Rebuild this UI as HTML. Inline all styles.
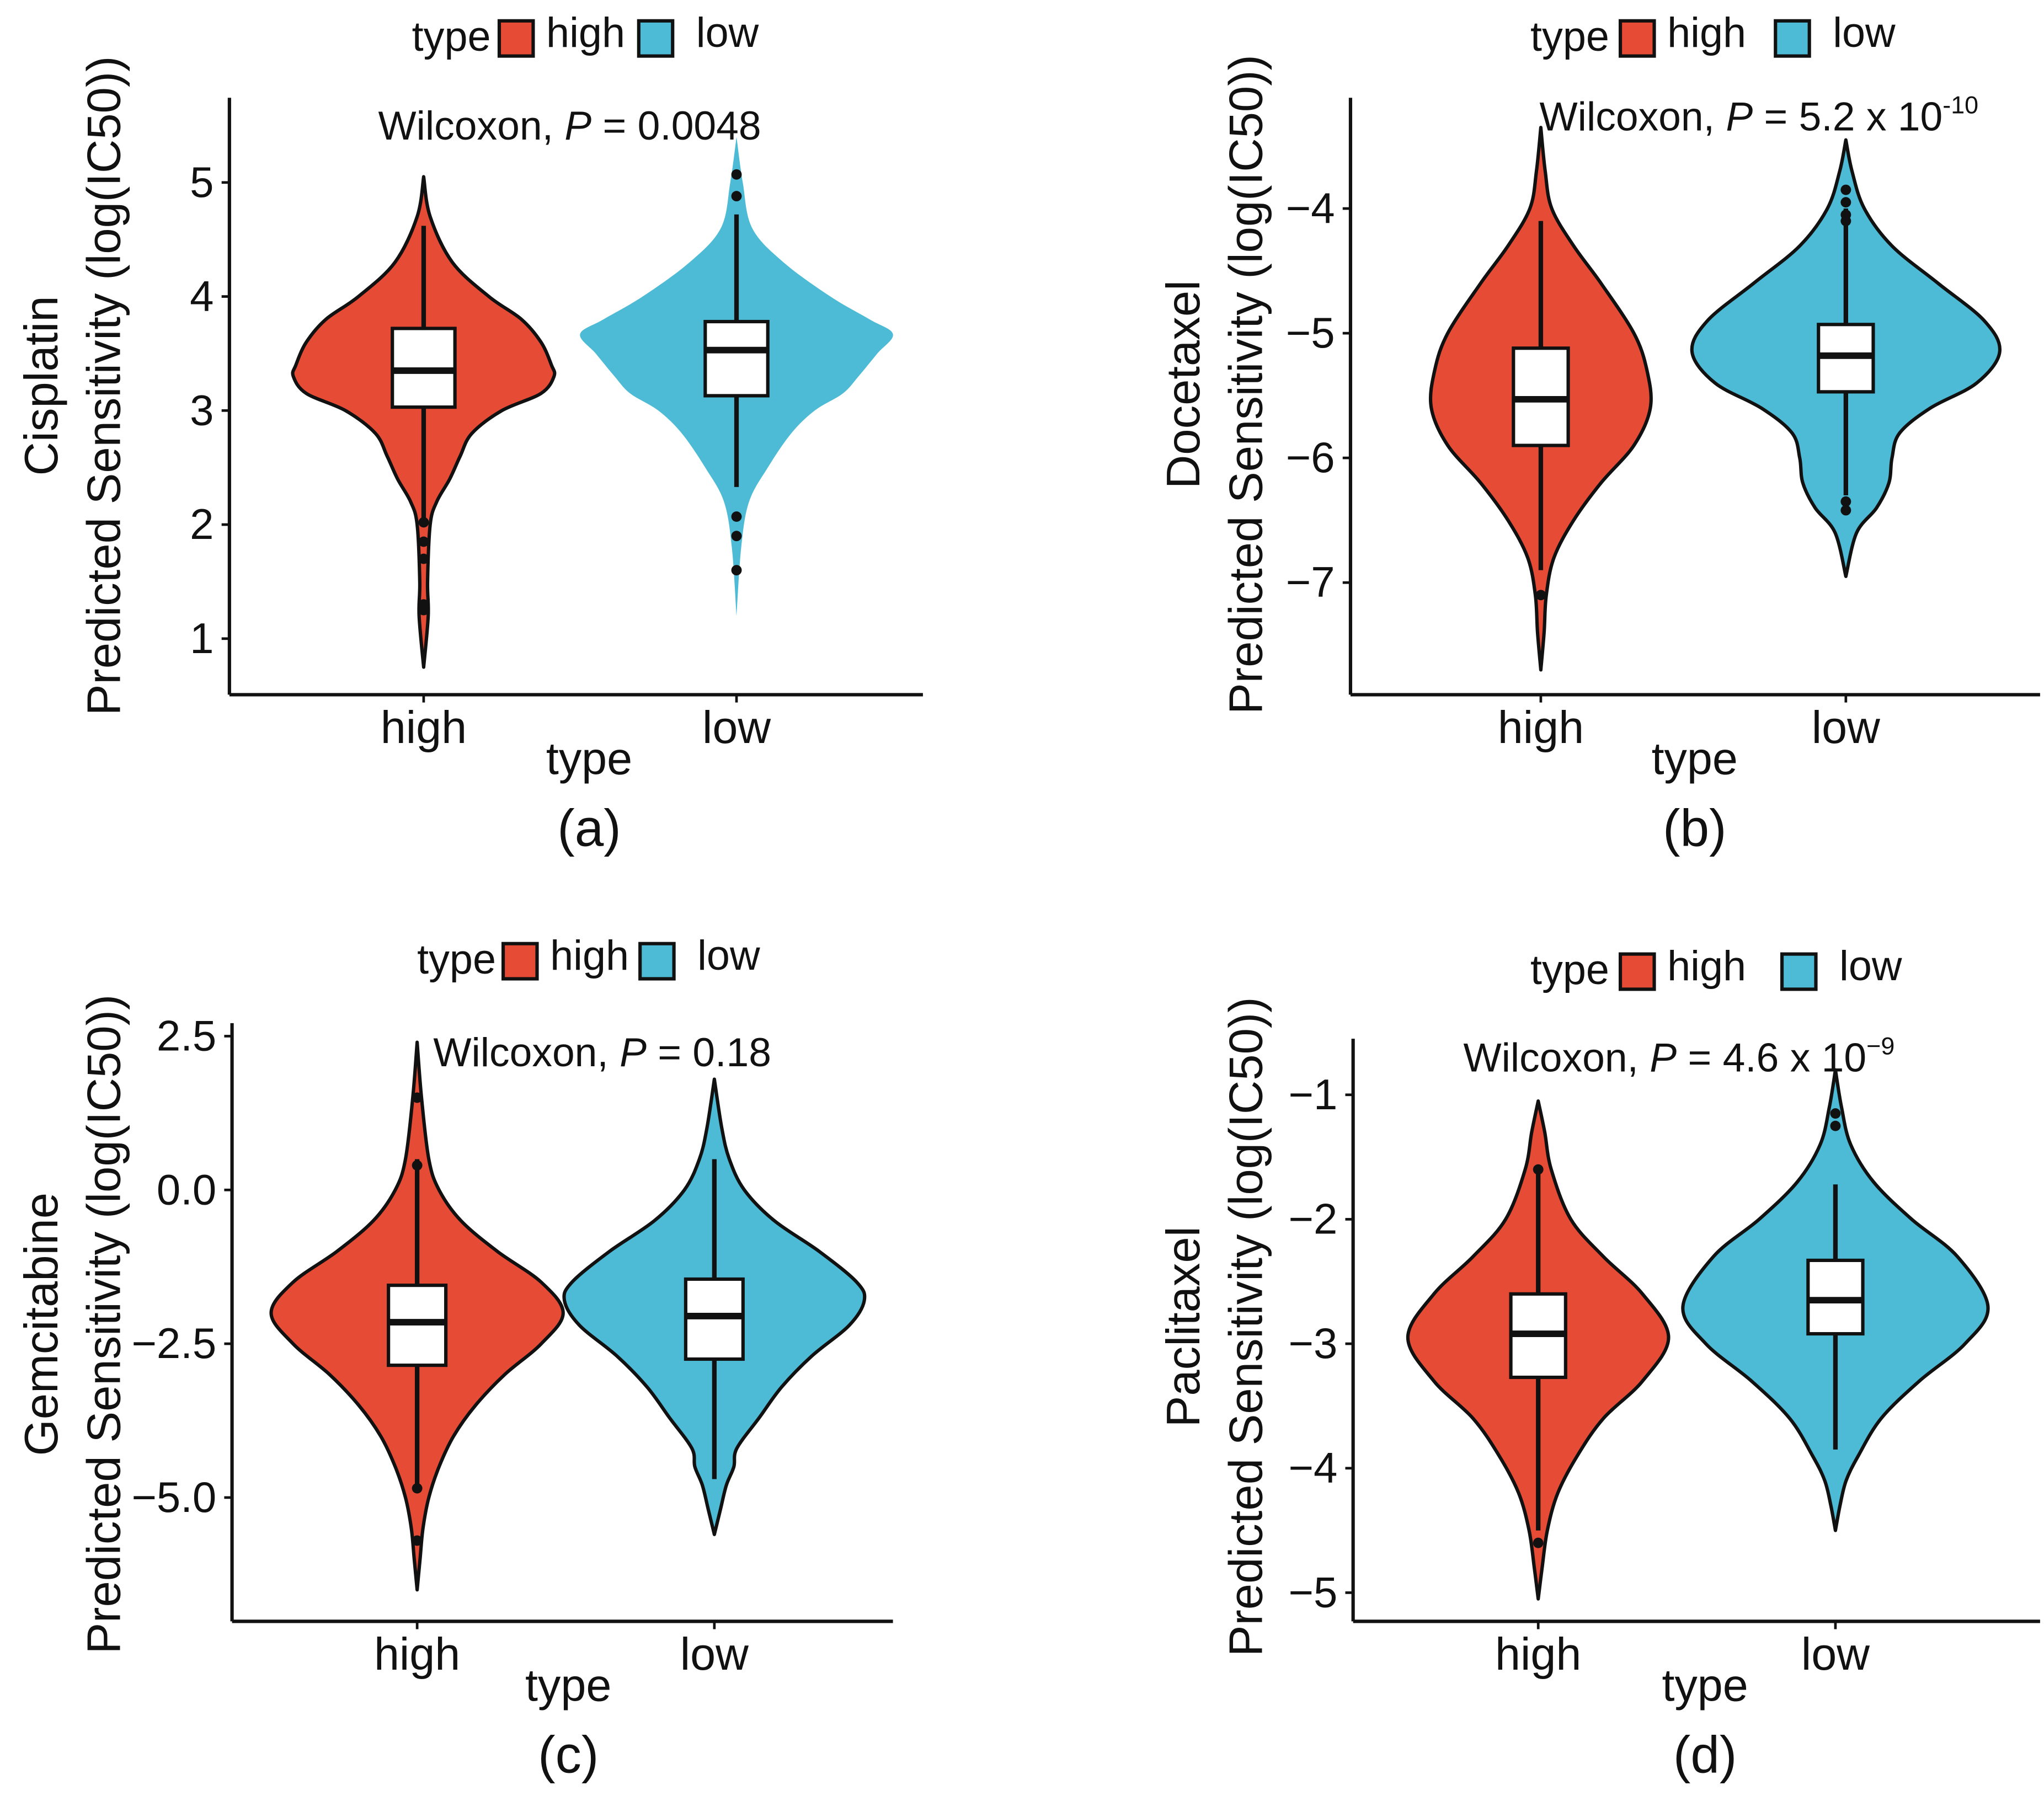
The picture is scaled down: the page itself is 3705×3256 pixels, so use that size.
<!DOCTYPE html>
<html><head><meta charset="utf-8"><style>
html,body{margin:0;padding:0;background:#fff;}
svg{display:block;}
text{font-family:"Liberation Sans Narrow","Liberation Sans",sans-serif;fill:#111;}
</style></head><body>
<svg id="fig" width="3705" height="3256" viewBox="0 0 1568 1378" preserveAspectRatio="none" xmlns="http://www.w3.org/2000/svg"></svg>
<script>
// ---- Data ----
const categories = ["high","low"];
// Panel a: Cisplatin
const aTicks = [1,2,3,4,5];
const aHighY = [0.75,1.2,1.5,2.0,2.2,2.4,2.6,2.8,3.0,3.15,3.3,3.4,3.6,3.8,4.0,4.3,4.7,5.05];
const aHighD = [0,0.035,0.03,0.05,0.1,0.2,0.28,0.37,0.6,0.9,1.0,0.98,0.9,0.75,0.5,0.22,0.05,0];
const aLowY = [1.2,1.8,2.2,2.5,2.8,3.0,3.15,3.3,3.5,3.67,3.8,4.0,4.3,4.6,5.0,5.4];
const aLowD = [0,0.03,0.08,0.2,0.35,0.5,0.68,0.78,0.9,1.0,0.85,0.6,0.3,0.1,0.04,0];
const aHighBox = [2.0,3.03,3.35,3.72,4.62];
const aLowBox = [2.33,3.13,3.53,3.78,4.72];
const aHighOut = [2.02,1.85,1.7,1.3,1.25];
const aLowOut = [5.07,4.88,2.07,1.9,1.6];
// Panel b: Docetaxel
const bTicks = [-7,-6,-5,-4];
const bHighY = [-7.7,-7.4,-7.1,-6.8,-6.5,-6.2,-5.9,-5.6,-5.3,-5.0,-4.6,-4.3,-4.0,-3.7,-3.35];
const bHighD = [0,0.03,0.05,0.12,0.3,0.55,0.85,1.0,0.97,0.85,0.55,0.3,0.1,0.04,0];
const bLowY = [-6.95,-6.6,-6.4,-6.2,-6.0,-5.8,-5.6,-5.4,-5.15,-4.9,-4.6,-4.3,-4.0,-3.7,-3.45];
const bLowD = [0,0.07,0.2,0.28,0.3,0.35,0.55,0.85,1.0,0.9,0.6,0.3,0.12,0.04,0];
const bHighBox = [-6.9,-5.9,-5.53,-5.12,-4.1];
const bLowBox = [-6.3,-5.47,-5.18,-4.93,-4.0];
const bHighOut = [-7.1];
const bLowOut = [-3.85,-3.95,-4.05,-4.1,-6.35,-6.42];
// Panel c: Gemcitabine
const cTicks = [-5.0,-2.5,0.0,2.5];
const cHighY = [-6.5,-6,-5.5,-5,-4.5,-4,-3.5,-3,-2.5,-2.0,-1.5,-1,-0.5,0,0.5,1.5,2.4];
const cHighD = [0,0.02,0.04,0.08,0.15,0.25,0.4,0.6,0.85,1.0,0.85,0.55,0.3,0.15,0.08,0.03,0];
const cLowY = [-5.6,-5.2,-4.8,-4.5,-4.2,-3.7,-3.2,-2.7,-2.2,-1.8,-1.5,-1,-0.5,0,0.5,1,1.8];
const cLowD = [0,0.04,0.08,0.13,0.15,0.3,0.45,0.65,0.9,1.0,0.95,0.7,0.4,0.2,0.1,0.05,0];
const cHighBox = [-4.9,-2.85,-2.15,-1.55,0.5];
const cLowBox = [-4.7,-2.75,-2.05,-1.45,0.5];
const cHighOut = [1.5,0.4,-4.85,-5.7];
const cLowOut = [];
// Panel d: Paclitaxel
const dTicks = [-5,-4,-3,-2,-1];
const dHighY = [-5.05,-4.8,-4.5,-4.2,-3.9,-3.6,-3.3,-2.95,-2.6,-2.3,-2.0,-1.6,-1.3,-1.05];
const dHighD = [0,0.03,0.07,0.15,0.3,0.5,0.8,1.0,0.8,0.5,0.25,0.1,0.05,0];
const dLowY = [-4.5,-4.3,-4.1,-3.9,-3.6,-3.3,-3.0,-2.7,-2.3,-2.0,-1.7,-1.4,-1.1,-0.8];
const dLowD = [0,0.03,0.07,0.15,0.3,0.55,0.85,1.0,0.8,0.5,0.25,0.1,0.04,0];
const dHighBox = [-4.5,-3.27,-2.92,-2.6,-1.6];
const dLowBox = [-3.85,-2.92,-2.65,-2.33,-1.72];
const dHighOut = [-1.6,-4.6];
const dLowOut = [-1.15,-1.25];

const RED="#E64B35", BLUE="#4DBBD5";
const NS="http://www.w3.org/2000/svg";
const svg=document.getElementById('fig');
function mk(tag,attrs,parent){const e=document.createElementNS(NS,tag);for(const k in attrs)e.setAttribute(k,attrs[k]);(parent||svg).appendChild(e);return e;}
function txt(s,attrs,parent){const e=mk('text',attrs,parent);e.textContent=s;return e;}
function smooth(pts){let d="M"+pts[0][0]+","+pts[0][1];for(let i=0;i<pts.length-1;i++){const p0=pts[Math.max(0,i-1)],p1=pts[i],p2=pts[i+1],p3=pts[Math.min(pts.length-1,i+2)];
const c1=[p1[0]+(p2[0]-p0[0])/6,p1[1]+(p2[1]-p0[1])/6],c2=[p2[0]-(p3[0]-p1[0])/6,p2[1]-(p3[1]-p1[1])/6];
d+=" C"+c1[0]+","+c1[1]+" "+c2[0]+","+c2[1]+" "+p2[0]+","+p2[1];}return d;}

function panel(cfg){
  const g=mk('g',{});
  
  
  const y=v=>cfg.py0+(v-cfg.v0)*(cfg.py1-cfg.py0)/(cfg.v1-cfg.v0);
  const xs=[cfg.xh,cfg.xl];
  const sets=[[cfg.hy,cfg.hd,RED,cfg.hbox,cfg.hout,true],[cfg.ly,cfg.ld,BLUE,cfg.lbox,cfg.lout,cfg.lowOutline]];
  sets.forEach((s,i)=>{
    const cx=xs[i],hw=cfg.hw[i];
    const right=s[0].map((v,j)=>[cx+s[1][j]*hw,y(v)]);
    const left=s[0].map((v,j)=>[cx-s[1][j]*hw,y(v)]).reverse();
    const d=smooth(right)+" "+smooth(left).replace(/^M/,"L")+" Z";
    const vp=mk('path',{d:d,fill:s[2],stroke:s[5]?"#111":"none","stroke-width":2.6,"stroke-linejoin":"round"},g);
    
    
    const b=s[3],bw=cfg.bw;
    const wl=mk('line',{x1:cx,x2:cx,y1:y(b[0]),y2:y(b[4]),stroke:"#111","stroke-width":3.5},g);
    
    
    const r=mk('rect',{x:cx-bw,y:y(b[3]),width:2*bw,height:y(b[1])-y(b[3]),fill:"#fff",stroke:"#111","stroke-width":2.6},g);
    
    
    const m=mk('line',{x1:cx-bw,x2:cx+bw,y1:y(b[2]),y2:y(b[2]),stroke:"#111","stroke-width":5},g);
    
    
    s[4].forEach(o=>{const c=mk('circle',{cx:cx,cy:y(o),r:4,fill:"#111"},g);
      
      });
  });
  const ya=mk('line',{x1:cfg.ax,x2:cfg.ax,y1:cfg.atop,y2:cfg.ab,stroke:"#111","stroke-width":2.6},g);
  
  
  const xa=mk('line',{x1:cfg.ax,x2:cfg.ar,y1:cfg.ab,y2:cfg.ab,stroke:"#111","stroke-width":2.6},g);
  
  
  cfg.ticks.forEach(t=>{
    const tl=mk('line',{x1:cfg.ax-6,x2:cfg.ax,y1:y(t),y2:y(t),stroke:"#111","stroke-width":2},g);
    
    
    const s=cfg.fmt?t.toFixed(1):String(t);
    const tt=txt(s.replace('-','\u2212'),{x:cfg.ax-12,y:y(t)+11,"font-size":33,"text-anchor":"end"},g);
    
    
  });
  categories.forEach((c,i)=>{
    const tl=mk('line',{x1:xs[i],x2:xs[i],y1:cfg.ab,y2:cfg.ab+6,stroke:"#111","stroke-width":2},g);
    
    
    const tt=txt(c,{x:xs[i],y:cfg.ab+37,"font-size":35,"text-anchor":"middle"},g);
    
    
  });
  const xt=txt("type",{x:cfg.tx,y:cfg.ab+61,"font-size":35,"text-anchor":"middle"},g);
  
  
  const pl=txt("("+cfg.id+")",{x:cfg.tx,y:cfg.ab+116,"font-size":40,"text-anchor":"middle"},g);
  
  
  const yt1=txt(cfg.drug,{x:0,y:0,"font-size":36,"text-anchor":"middle",transform:`translate(${cfg.ylx},${cfg.ylc}) rotate(-90)`},g);
  
  
  const yt2=txt("Predicted Sensitivity (log(IC50))",{x:0,y:0,"font-size":36,"text-anchor":"middle",transform:`translate(${cfg.ylx+48},${cfg.ylc}) rotate(-90)`},g);
  
  
  const L=cfg.leg;
  const lt=txt("type",{x:L[0],y:L[4]+10,"font-size":32},g);
  
  
  [[L[1],RED,"high"],[L[3],BLUE,"low"]].forEach((e,i)=>{
    const r=mk('rect',{x:e[0],y:L[4]-13,width:26,height:27,fill:e[1],stroke:"#111","stroke-width":2.6},g);
    
    
    const t=txt(e[2],{x:e[0]+36+(i?8:0),y:L[4]+7,"font-size":32},g);
    
    
  });
  const w=txt("",{x:cfg.wx,y:cfg.wy,"font-size":31,"text-anchor":cfg.wa},g);
  
  
  cfg.wtext.forEach(p=>{const ts=document.createElementNS(NS,'tspan');ts.textContent=p[0];
    if(p[1]==='i')ts.setAttribute('font-style','italic');
    if(p[1]==='s'){ts.setAttribute('font-size','19');ts.setAttribute('dy','-13');}
    w.appendChild(ts);});
}

panel({id:"a",drug:"Cisplatin",v0:1,py0:490,v1:5,py1:140,xh:325,xl:565,hw:[100,120],bw:24,
 hy:aHighY,hd:aHighD,ly:aLowY,ld:aLowD,hbox:aHighBox,lbox:aLowBox,hout:aHighOut,lout:aLowOut,lowOutline:false,
 ticks:aTicks,ax:176,atop:75,ab:533,ar:708,tx:452,ylx:44,ylc:296,leg:[316,383,0,490,29],
 wx:437,wy:107,wa:"middle",wtext:[["Wilcoxon, "],["P","i"],[" = 0.0048"]]});
panel({id:"b",drug:"Docetaxel",v0:-7,py0:447,v1:-4,py1:160,xh:1182,xl:1416,hw:[84,118],bw:21,
 hy:bHighY,hd:bHighD,ly:bLowY,ld:bLowD,hbox:bHighBox,lbox:bLowBox,hout:bHighOut,lout:bLowOut,lowOutline:true,
 ticks:bTicks,ax:1036,atop:75,ab:533,ar:1565,tx:1300,ylx:920,ylc:295,leg:[1174,1243,0,1362,29],
 wx:1181,wy:100,wa:"start",wtext:[["Wilcoxon, "],["P","i"],[" = 5.2 x 10"],["-10","s"]]});
panel({id:"c",drug:"Gemcitabine",v0:-5,py0:1149,v1:2.5,py1:795,xh:320,xl:548,hw:[112,115],bw:22,fmt:true,
 hy:cHighY,hd:cHighD,ly:cLowY,ld:cLowD,hbox:cHighBox,lbox:cLowBox,hout:cHighOut,lout:cLowOut,lowOutline:true,
 ticks:cTicks,ax:178,atop:785,ab:1244,ar:685,tx:436,ylx:44,ylc:1016,leg:[320,386,0,491,737],
 wx:462,wy:818,wa:"middle",wtext:[["Wilcoxon, "],["P","i"],[" = 0.18"]]});
panel({id:"d",drug:"Paclitaxel",v0:-5,py0:1222,v1:-1,py1:840,xh:1180,xl:1408,hw:[100,117],bw:21,
 hy:dHighY,hd:dHighD,ly:dLowY,ld:dLowD,hbox:dHighBox,lbox:dLowBox,hout:dHighOut,lout:dLowOut,lowOutline:true,
 ticks:dTicks,ax:1038,atop:797,ab:1244,ar:1565,tx:1308,ylx:920,ylc:1018,leg:[1174,1243,0,1367,745],
 wx:1288,wy:822,wa:"middle",wtext:[["Wilcoxon, "],["P","i"],[" = 4.6 x 10"],["\u22129","s"]]});
</script>
</body></html>
